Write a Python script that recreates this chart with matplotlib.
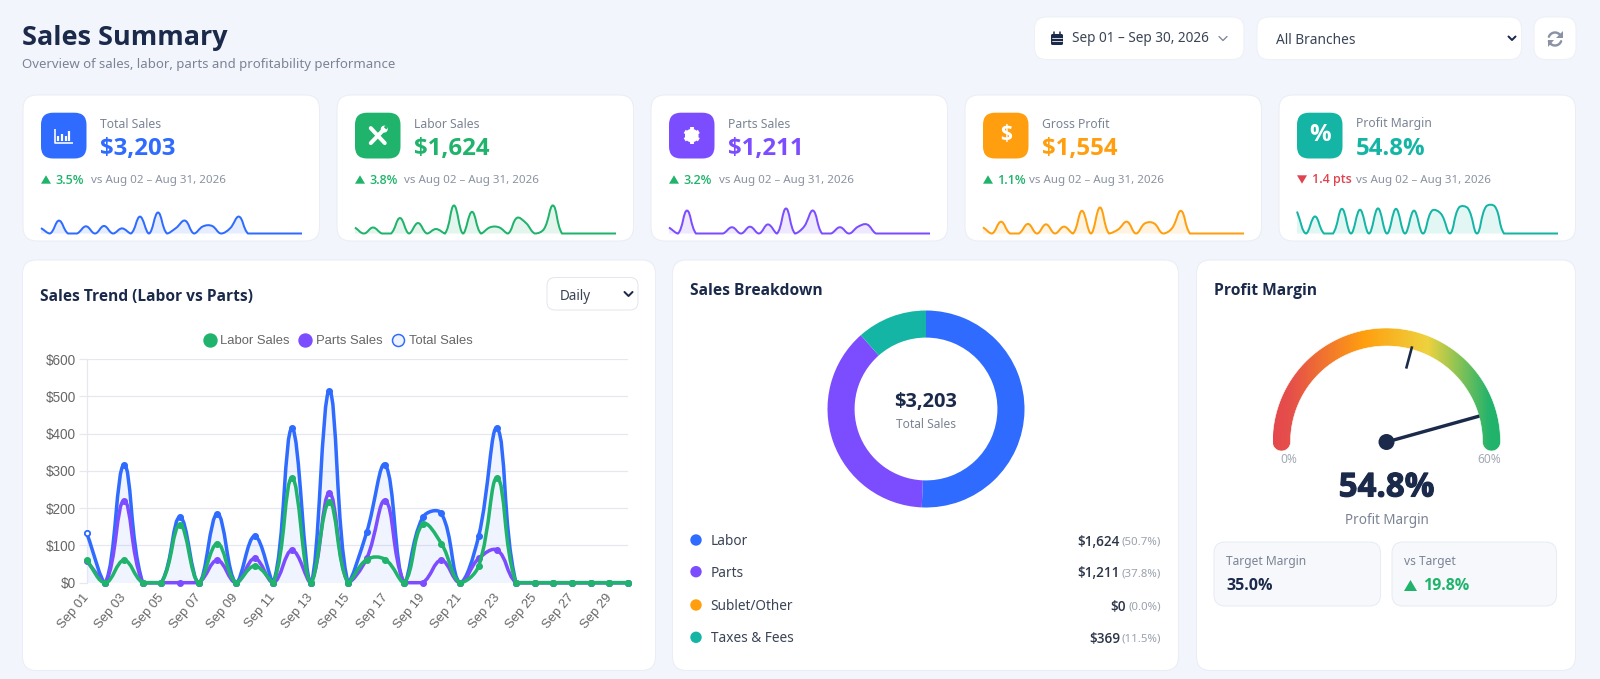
import numpy as np
import matplotlib
matplotlib.use("Agg")
import matplotlib.pyplot as plt
import matplotlib.patheffects as pe
from matplotlib.colors import LinearSegmentedColormap
from matplotlib.lines import Line2D
from matplotlib.patches import Circle, FancyBboxPatch, PathPatch, Polygon
from matplotlib.path import Path
from matplotlib.transforms import ScaledTranslation

plt.rcParams["font.family"] = ["Noto Sans", "DejaVu Sans"]

W, H = 1600, 679
BG = "#f3f5fc"
NAVY = "#1b2a4a"
GRAY = "#7b8494"
BLUE = "#2f6bff"
GREEN = "#1fb36b"
PURPLE = "#7c4dff"
ORANGE = "#ff9f0f"
TEAL = "#15b5a5"
RED = "#e0424f"

days = ["Sep %02d" % d for d in range(1, 31)]
total_sales = [133, 0, 316, 0, 0, 176, 0, 185, 0, 125, 0, 414, 0, 515, 0,
               135, 316, 0, 175, 186, 0, 125, 414, 0, 0, 0, 0, 0, 0, 0]
labor_sales = [60, 0, 60, 0, 0, 155, 0, 105, 0, 45, 0, 281, 0, 217, 0,
               62, 62, 0, 157, 105, 0, 45, 281, 0, 0, 0, 0, 0, 0, 0]
parts_sales = [58, 0, 220, 0, 0, 0, 0, 60, 0, 65, 0, 87, 0, 240, 0,
               65, 220, 0, 0, 60, 0, 65, 87, 0, 0, 0, 0, 0, 0, 0]
gross_profit = [62, 0, 117, 0, 0, 95, 0, 91, 0, 68, 0, 225, 0, 258, 0,
                39, 117, 0, 101, 101, 0, 52, 225, 0, 0, 0, 0, 0, 0, 0]
margin_pct = [49, 0, 38, 0, 0, 55, 0, 53, 0, 56, 0, 55, 0, 51, 0,
              51, 44, 0, 58, 56, 0, 60, 60, 0, 0, 0, 0, 0, 0, 0]

kpi_labels = ["Total Sales", "Labor Sales", "Parts Sales", "Gross Profit", "Profit Margin"]
kpi_values = ["$3,203", "$1,624", "$1,211", "$1,554", "54.8%"]
kpi_deltas = ["3.5%", "3.8%", "3.2%", "1.1%", "1.4 pts"]
kpi_up = [True, True, True, True, False]
kpi_colors = [BLUE, GREEN, PURPLE, ORANGE, TEAL]
kpi_series = [total_sales, labor_sales, parts_sales, gross_profit, margin_pct]
spark_tops = [736, 301, 288, 298, 67]
vs_offsets = [67.6, 67, 67.8, 63.6, 77]

bd_labels = ["Labor", "Parts", "Sublet/Other", "Taxes & Fees"]
bd_values = [1624, 1211, 0, 369]
bd_amounts = ["$1,624", "$1,211", "$0", "$369"]
bd_shares = ["(50.7%)", "(37.8%)", "(0.0%)", "(11.5%)"]
bd_colors = [BLUE, PURPLE, ORANGE, TEAL]

gauge_value = 54.8
gauge_target = 35.0
gauge_max = 60.0


def px(size):
    return size * 0.72


def add_axes_px(x0, y0, x1, y1, **kw):
    return fig.add_axes([x0 / W, 1 - y1 / H, (x1 - x0) / W, (y1 - y0) / H], **kw)


def box(x0, y0, x1, y1, r=14, fc="white", ec="#eaedf5", lw=1.0):
    bg.add_patch(FancyBboxPatch((x0, y0), x1 - x0, y1 - y0,
                                boxstyle="round,pad=0,rounding_size=%s" % r,
                                fc=fc, ec=ec, lw=px(lw)))


def label(x, y, s, size, color=GRAY, weight="normal", ha="left", **kw):
    # the Noto file here has no bold face, Open Sans is the close one
    if weight != "normal":
        kw["family"] = ["Open Sans", "Noto Sans"]
    return bg.text(x, y, s, fontsize=px(size), color=color, fontweight=weight,
                   ha=ha, va="center", **kw)


def stroke(xs, ys, color="white", lw=2.0, cap="round"):
    bg.plot(xs, ys, color=color, lw=px(lw), solid_capstyle=cap, solid_joinstyle="round")


def triangle(x0, x1, yc, h, color):
    bg.add_patch(Polygon([(x0, yc + h), (x1, yc + h), ((x0 + x1) / 2, yc - h)], fc=color, ec="none"))


def smooth_path(x, y, sx, sy, ymax, tension=0.4, close=False):
    # same control points as a chart.js bezier line, capped to the plot area
    X = np.asarray(x, float) * sx
    Y = np.asarray(y, float) * sy
    n = len(X)
    before, after = [], []
    for i in range(n):
        p, q = max(i - 1, 0), min(i + 1, n - 1)
        d01 = np.hypot(X[i] - X[p], Y[i] - Y[p])
        d12 = np.hypot(X[q] - X[i], Y[q] - Y[i])
        s = d01 + d12
        fa = tension * d01 / s if s else 0
        fb = tension * d12 / s if s else 0
        before.append((X[i] - fa * (X[q] - X[p]), min(max(Y[i] - fa * (Y[q] - Y[p]), 0), ymax * sy)))
        after.append((X[i] + fb * (X[q] - X[p]), min(max(Y[i] + fb * (Y[q] - Y[p]), 0), ymax * sy)))
    verts = [(X[0], Y[0])]
    codes = [Path.MOVETO]
    for i in range(1, n):
        verts += [after[i - 1], before[i], (X[i], Y[i])]
        codes += [Path.CURVE4] * 3
    if close:
        verts += [(X[-1], 0), (X[0], 0), (X[0], 0)]
        codes += [Path.LINETO, Path.LINETO, Path.CLOSEPOLY]
    return Path([(a / sx, b / sy) for a, b in verts], codes)


fig = plt.figure(figsize=(W / 100, H / 100), dpi=100, facecolor=BG)
bg = fig.add_axes([0, 0, 1, 1])
bg.set_xlim(0, W)
bg.set_ylim(H, 0)
bg.axis("off")

# header
label(21.5, 38, "Sales Summary", 27, NAVY, "bold")
label(21.5, 64.5, "Overview of sales, labor, parts and profitability performance", 13.2, GRAY)
box(1034.5, 17, 1244, 59.5, r=12, ec="#edf0f6")
box(1257, 17, 1521.5, 59.5, r=12, ec="#edf0f6")
box(1534, 17, 1576, 59.5, r=12, ec="#edf0f6")
label(1072, 39, "Sep 01 – Sep 30, 2026", 13.6, "#3a4455")
label(1276, 41, "All Branches", 13.7, "#3a4455")
bg.add_patch(FancyBboxPatch((1051, 34), 12, 11, boxstyle="round,pad=0,rounding_size=1.5", fc=NAVY, ec="none"))
stroke([1054, 1054], [32, 35], NAVY, 1.5)
stroke([1060, 1060], [32, 35], NAVY, 1.5)
stroke([1052, 1062], [37.5, 37.5], "white", 0.8)
stroke([1052, 1062], [41, 41], "white", 0.8)
stroke([1219, 1223, 1227], [36.5, 40.5, 36.5], "#7b8494", 1.3)
stroke([1508.5, 1512, 1515.5], [36.5, 40, 36.5], NAVY, 2.0)
arc_t = np.radians(np.linspace(20, 160, 20))
stroke(1555 + 6.5 * np.cos(arc_t), 39 - 6.5 * np.sin(arc_t), "#8a93a3", 2.4)
stroke(1555 - 6.5 * np.cos(arc_t), 39 + 6.5 * np.sin(arc_t), "#8a93a3", 2.4)
bg.add_patch(Polygon([(1562.5, 31), (1562.5, 38), (1556, 38)], fc="#8a93a3", ec="none"))
bg.add_patch(Polygon([(1547.5, 47), (1547.5, 40), (1554, 40)], fc="#8a93a3", ec="none"))

# kpi cards
for i in range(5):
    cx = 23 + 314 * i
    color = kpi_colors[i]
    box(cx, 95, cx + 296.5, 241)
    box(cx + 18, 112.7, cx + 63.5, 158.5, r=12, fc=color, ec="none", lw=0)
    ic, jc = cx + 40.75, 135.6
    if i == 0:
        stroke([ic - 9, ic - 9, ic + 9.5], [jc - 7, jc + 7, jc + 7], lw=1.6, cap="butt")
        for dx, h in zip([-5.8, -2, 1.8, 5.6], [5, 7, 4.5, 10]):
            stroke([ic + dx, ic + dx], [jc + 5, jc + 5 - h], lw=2.2, cap="butt")
    elif i == 1:
        stroke([ic - 7, ic + 7], [jc - 7.5, jc + 7.5], lw=4)
        stroke([ic + 6, ic - 7], [jc - 6, jc + 7.5], lw=4)
        bg.add_patch(Circle((ic + 6.5, jc - 6.5), 3.5, fc="white", ec="none"))
        bg.add_patch(Circle((ic + 8, jc - 8), 1.7, fc=color, ec="none"))
    elif i == 2:
        bg.add_patch(Circle((ic, jc), 6.8, fc="white", ec="none"))
        for a in np.radians(np.arange(0, 360, 60) + 30):
            stroke([ic, ic + 8.2 * np.cos(a)], [jc, jc + 8.2 * np.sin(a)], lw=3.8, cap="butt")
        bg.add_patch(Circle((ic, jc), 3.2, fc=color, ec="none"))
    elif i == 3:
        label(ic, jc - 1, "$", 21, "white", "bold", ha="center")
    else:
        label(ic, jc - 1, "%", 24, "white", "bold", ha="center")
    label(cx + 77, 124, kpi_labels[i], 12.2, GRAY)
    label(cx + 77, 149, kpi_values[i], 24, color, "bold")
    if kpi_up[i]:
        triangle(cx + 18, cx + 28, 179.5, 4.2, GREEN)
        label(cx + 32.5, 180, kpi_deltas[i], 12.5, GREEN, "semibold")
    else:
        triangle(cx + 18, cx + 28, 179.5, -4.2, RED)
        label(cx + 32.5, 180, kpi_deltas[i], 12.5, RED, "semibold")
    label(cx + vs_offsets[i], 180, "vs Aug 02 – Aug 31, 2026", 11.6, "#8a92a0")

    sp = add_axes_px(cx + 18, 203.5, cx + 279, 233.5)
    sp.axis("off")
    sp.set_xlim(0, 29)
    sp.set_ylim(0, spark_tops[i])
    vals = kpi_series[i]
    sx, sy = 261 / 29, 30 / spark_tops[i]
    sp.add_patch(PathPatch(smooth_path(range(30), vals, sx, sy, spark_tops[i], close=True),
                           fc=color, alpha=0.12, ec="none"))
    sp.add_patch(PathPatch(smooth_path(range(30), vals, sx, sy, spark_tops[i]),
                           fc="none", ec=color, lw=px(2.0), clip_on=False))

# sales trend panel
box(22.5, 260, 655.5, 670.5)
label(40, 297, "Sales Trend (Labor vs Parts)", 15.5, NAVY, "bold")
box(547, 277.5, 638, 310, r=8, ec="#e3e6ee")
label(560, 296.5, "Daily", 13.5, "#3a4455")
stroke([624.5, 628.5, 632.5], [292, 296, 292], NAVY, 2.0)

left, right, top, bottom = 86.7, 628, 359, 582.7
ax = add_axes_px(left, top, right, bottom)
ax.patch.set_alpha(0)
ax.set_xlim(0, 29)
ax.set_ylim(0, 600)
sx = (right - left) / 29
sy = (bottom - top) / 600
x = np.arange(30)
ax.add_patch(PathPatch(smooth_path(x, total_sales, sx, sy, 600, close=True), fc=BLUE, alpha=0.07, ec="none"))
for vals, color in [(total_sales, BLUE), (parts_sales, PURPLE), (labor_sales, GREEN)]:
    ax.add_patch(PathPatch(smooth_path(x, vals, sx, sy, 600), fc="none", ec=color, lw=px(3.5),
                           capstyle="round", joinstyle="round", zorder=3, clip_on=False))
    ax.plot(x, vals, ls="none", marker="o", ms=px(5.6), mfc=color, mec=color, zorder=3, clip_on=False)
ax.plot(x[0], total_sales[0], ls="none", marker="o", ms=px(5), mfc="white", mec=BLUE, mew=px(1.5),
        zorder=3.2, clip_on=False)
ax.set_yticks(range(0, 601, 100))
ax.set_yticklabels(["$%d" % v for v in range(0, 601, 100)])
ax.set_xticks(x[::2])
ax.set_xticklabels(days[::2], rotation=50, ha="right", rotation_mode="anchor")
ax.grid(axis="y", color="#e6e8ef", lw=px(1.2))
ax.set_axisbelow(True)
for name in ["top", "right", "bottom"]:
    ax.spines[name].set_visible(False)
ax.spines["left"].set_color("#e6e8ef")
ax.spines["left"].set_linewidth(px(1.2))
ax.tick_params(axis="y", length=px(8), width=px(1.2), color="#e6e8ef", pad=px(3),
               labelsize=px(13.5), labelcolor="#666666", labelfontfamily="Liberation Sans")
ax.tick_params(axis="x", length=0, pad=px(9),
               labelsize=px(13), labelcolor="#666666", labelfontfamily="Liberation Sans")
shift = ScaledTranslation(-4.5 / 100, 0, fig.dpi_scale_trans)
for tick_label in ax.get_xticklabels():
    tick_label.set_transform(tick_label.get_transform() + shift)
handles = [Line2D([], [], ls="none", marker="o", ms=px(13), mfc=GREEN, mec=GREEN, label="Labor Sales"),
           Line2D([], [], ls="none", marker="o", ms=px(13), mfc=PURPLE, mec=PURPLE, label="Parts Sales"),
           Line2D([], [], ls="none", marker="o", ms=px(12), mfc="#eef3ff", mec=BLUE, mew=px(1.5), label="Total Sales")]
ax.legend(handles=handles, ncol=3, loc="center", bbox_to_anchor=(338 / W, 1 - 341 / H),
          bbox_transform=fig.transFigure, frameon=False, handlelength=1, handletextpad=0.33,
          columnspacing=0.7, borderpad=0, borderaxespad=0,
          prop={"family": "Liberation Sans", "size": px(13)}, labelcolor="#666666")

# sales breakdown panel
box(672.5, 260, 1178.5, 670.5)
label(690.5, 291, "Sales Breakdown", 15.6, NAVY, "bold")
dc_x, dc_y, dc_r = 926, 409, 98.5
pie_ax = add_axes_px(dc_x - dc_r, dc_y - dc_r, dc_x + dc_r, dc_y + dc_r)
pie_ax.pie(bd_values, colors=bd_colors, startangle=90, counterclock=False, radius=1,
           wedgeprops={"width": 0.275, "linewidth": 0})
pie_ax.set_xlim(-1, 1)
pie_ax.set_ylim(-1, 1)
label(dc_x, 402, "$3,203", 20, NAVY, "bold", ha="center")
label(dc_x, 424, "Total Sales", 12, GRAY, ha="center")
for name, amount, share, color, yy, amount_end in zip(bd_labels, bd_amounts, bd_shares, bd_colors,
                                                      [540, 571.7, 605, 637.3], [1120, 1120, 1126, 1120]):
    bg.add_patch(Circle((696, yy), 5.7, fc=color, ec="none"))
    label(710.7, yy + 1.5, name, 13.6, "#3a4455")
    label(amount_end, yy + 1.5, amount, 13.5, "#2b3547", "semibold", ha="right")
    label(1161, yy + 2, share, 11.5, "#9aa2ae", ha="right")

# profit margin gauge panel
box(1196.5, 260, 1575.5, 670.5)
label(1214, 291, "Profit Margin", 15.6, NAVY, "bold")
g_x, g_y = 1386.5, 442
g = add_axes_px(g_x - 125, g_y - 125, g_x + 125, g_y + 15)
g.axis("off")
cmap = LinearSegmentedColormap.from_list("gauge", [(0, "#e5484d"), (0.08, "#e5504a"), (0.4, "#ff9f0f"),
                                                   (0.68, "#eed23f"), (0.95, "#24b36c"), (1, "#1fb36b")])
R_OUT, R_IN = 114, 96
arc = np.radians(np.linspace(180, 0, 120))
cap = np.radians(np.linspace(0, -180, 24))
mid, half = (R_OUT + R_IN) / 2, (R_OUT - R_IN) / 2
ring = np.vstack([
    np.c_[R_OUT * np.cos(arc), R_OUT * np.sin(arc)],
    np.c_[mid + half * np.cos(cap), half * np.sin(cap)],
    np.c_[R_IN * np.cos(arc[::-1]), R_IN * np.sin(arc[::-1])],
    np.c_[-mid + half * np.cos(cap), half * np.sin(cap)],
])
ring_path = Path(np.vstack([ring, ring[0]]), closed=True)
im = g.imshow(np.linspace(0, 1, 256).reshape(1, -1), cmap=cmap, extent=(-R_OUT, R_OUT, -15, R_OUT),
              aspect="auto", interpolation="bilinear")
im.set_clip_path(PathPatch(ring_path, transform=g.transData))
g.add_patch(PathPatch(ring_path, fc="none", ec="white", lw=0.4))
g.set_xlim(-125, 125)
g.set_ylim(-15, 125)


def gauge_xy(value, radius):
    a = np.pi * (1 - value / gauge_max)
    return radius * np.cos(a), radius * np.sin(a)


tx0, ty0 = gauge_xy(gauge_target, 76)
tx1, ty1 = gauge_xy(gauge_target, 99)
g.plot([tx0, tx1], [ty0, ty1], color=NAVY, lw=px(2.6), solid_capstyle="butt")
nx, ny = gauge_xy(gauge_value, 96.4)
g.plot([0, nx], [0, ny], color=NAVY, lw=px(3.4), solid_capstyle="butt")
g.add_patch(Circle((0, 0), 8, fc=NAVY, ec="none", clip_on=False))

label(1289, 459.5, "0%", 12, "#a3aab5", ha="center")
label(1489.5, 459.5, "60%", 12, "#a3aab5", ha="center")
label(g_x, 488, "54.8%", 33, NAVY, "bold", ha="center",
      path_effects=[pe.withStroke(linewidth=0.8, foreground=NAVY)])
label(g_x, 520, "Profit Margin", 13.5, GRAY, ha="center")
box(1214, 542, 1380.5, 606, r=11, fc="#f6f8fc", ec="#e8ebf2")
box(1392, 542, 1556.5, 606, r=11, fc="#f6f8fc", ec="#e8ebf2")
label(1226, 561.5, "Target Margin", 12, GRAY)
label(1226, 586, "35.0%", 16, NAVY, "bold")
label(1403.5, 561.5, "vs Target", 12, GRAY)
triangle(1404, 1417, 585.5, 5.5, GREEN)
label(1423, 586, "19.8%", 16, GREEN, "bold")

fig.savefig("out.png", dpi=100, facecolor=BG)
